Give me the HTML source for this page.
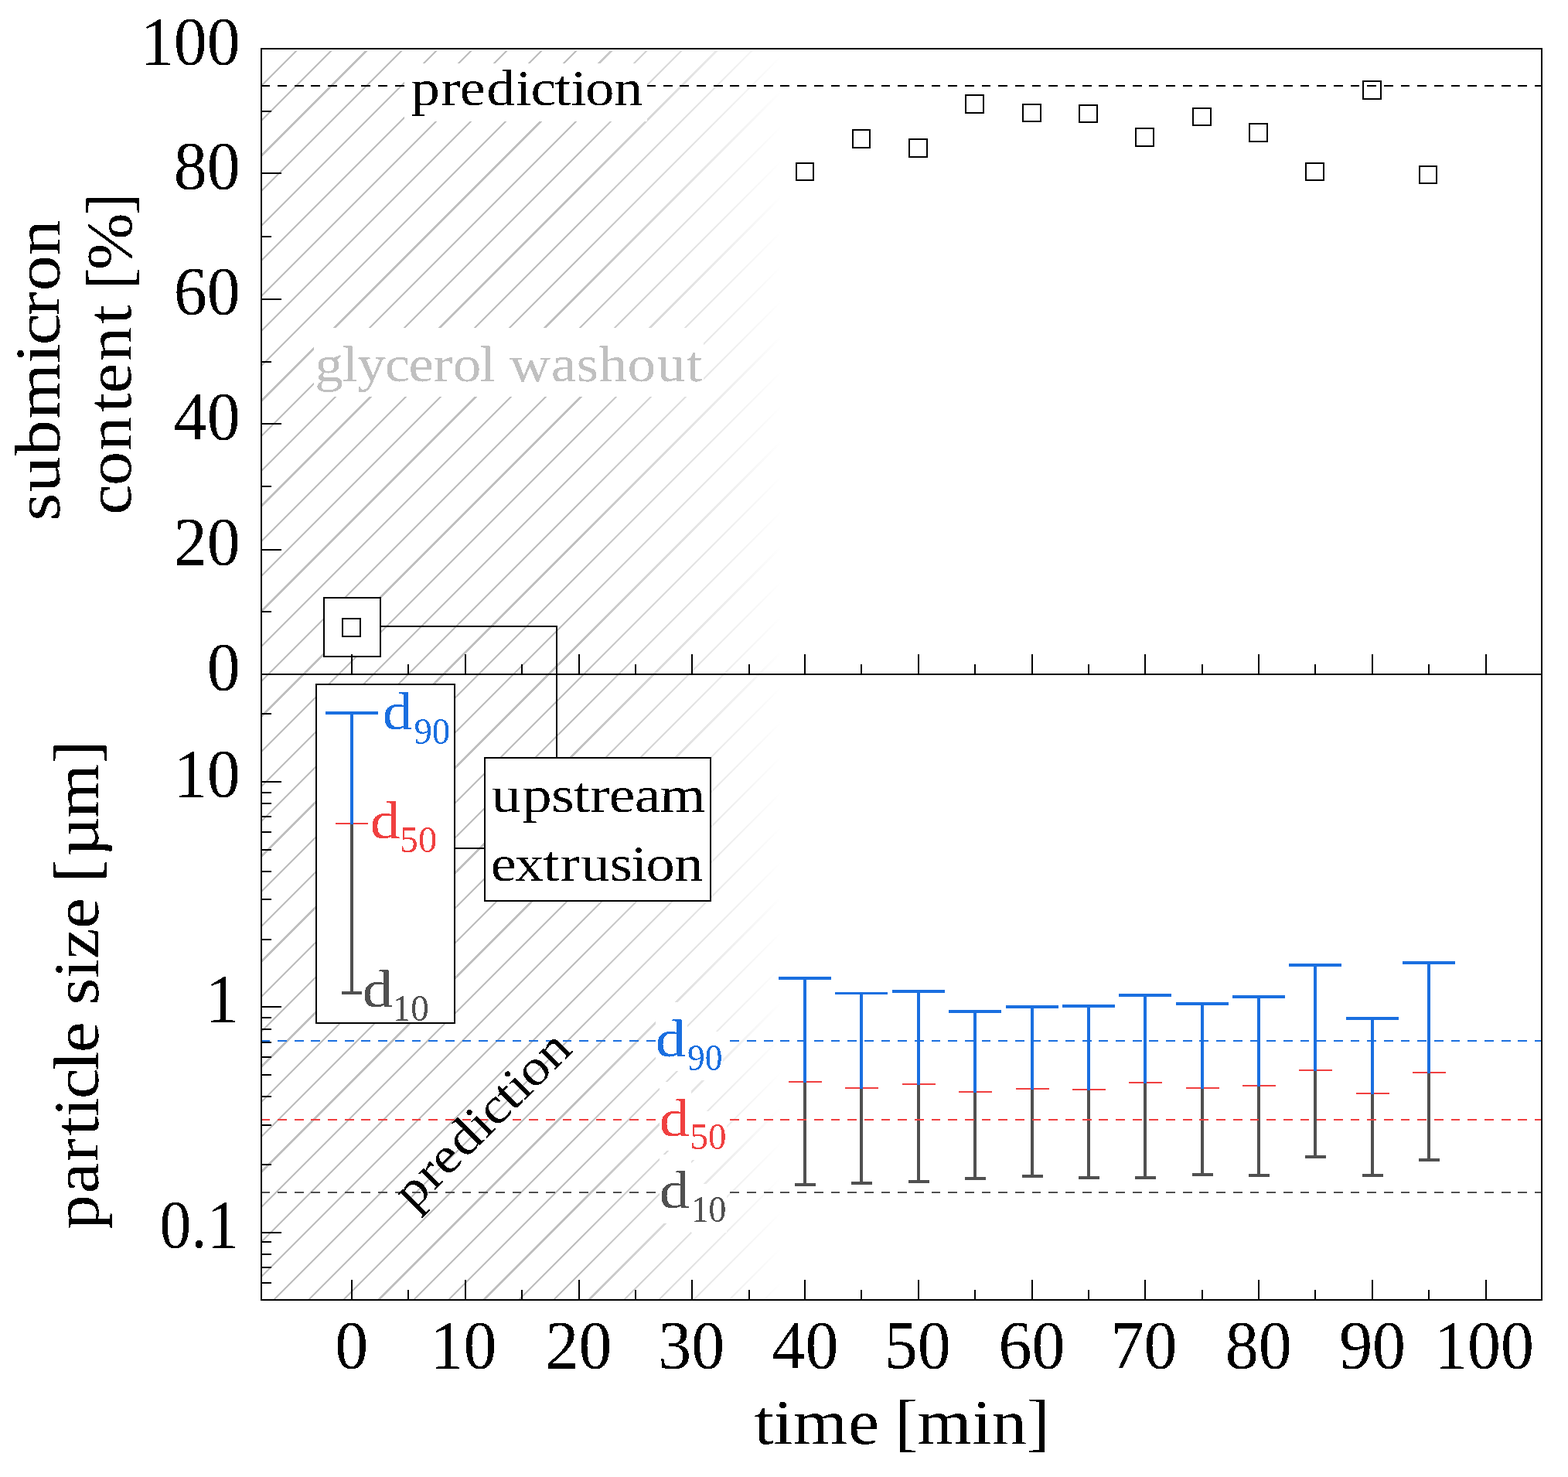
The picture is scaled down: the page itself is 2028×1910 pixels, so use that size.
<!DOCTYPE html>
<html lang="en"><head><meta charset="utf-8"><title>Particle size and submicron content over time</title>
<style>
html,body{margin:0;padding:0;background:#fff;}
svg{display:block;}
text{font-family:"Liberation Serif", serif;white-space:pre;filter:url(#bin);}
</style></head>
<body>
<svg xmlns="http://www.w3.org/2000/svg" width="2028" height="1910" viewBox="0 0 2028 1910" shape-rendering="crispEdges">
<rect width="2028" height="1910" fill="#fff"/>
<defs>
<clipPath id="plotclip"><rect x="338" y="63" width="1656" height="1618"/></clipPath>
<linearGradient id="fade" gradientUnits="userSpaceOnUse" x1="745" y1="0" x2="1010" y2="0"><stop offset="0" stop-color="#fff" stop-opacity="0"/><stop offset="1" stop-color="#fff" stop-opacity="1"/></linearGradient>
<clipPath id="hatchclip"><rect x="338" y="65.5" width="698" height="1615.5"/></clipPath>
<filter id="bin" x="-5%" y="-5%" width="110%" height="110%" color-interpolation-filters="sRGB"><feComponentTransfer><feFuncA type="discrete" tableValues="0 1"/></feComponentTransfer></filter>
</defs>
<g clip-path="url(#hatchclip)" stroke="#bfbfbf" stroke-width="2.3" fill="none">
<path d="M-1327.82 1686.00L300.18 58.00M-1282.51 1686.00L345.49 58.00M-1237.20 1686.00L390.80 58.00M-1191.89 1686.00L436.11 58.00M-1146.58 1686.00L481.42 58.00M-1101.27 1686.00L526.73 58.00M-1055.96 1686.00L572.04 58.00M-1010.65 1686.00L617.35 58.00M-965.34 1686.00L662.66 58.00M-920.03 1686.00L707.97 58.00M-874.72 1686.00L753.28 58.00M-829.41 1686.00L798.59 58.00M-784.10 1686.00L843.90 58.00M-738.79 1686.00L889.21 58.00M-693.48 1686.00L934.52 58.00M-648.17 1686.00L979.83 58.00M-602.86 1686.00L1025.14 58.00M-557.55 1686.00L1070.45 58.00M-512.24 1686.00L1115.76 58.00M-466.93 1686.00L1161.07 58.00M-421.62 1686.00L1206.38 58.00M-376.31 1686.00L1251.69 58.00M-331.00 1686.00L1297.00 58.00M-285.69 1686.00L1342.31 58.00M-240.38 1686.00L1387.62 58.00M-195.07 1686.00L1432.93 58.00M-149.76 1686.00L1478.24 58.00M-104.45 1686.00L1523.55 58.00M-59.14 1686.00L1568.86 58.00M-13.83 1686.00L1614.17 58.00M31.48 1686.00L1659.48 58.00M76.79 1686.00L1704.79 58.00M122.10 1686.00L1750.10 58.00M167.41 1686.00L1795.41 58.00M212.72 1686.00L1840.72 58.00M258.03 1686.00L1886.03 58.00M303.34 1686.00L1931.34 58.00M348.65 1686.00L1976.65 58.00M393.96 1686.00L2021.96 58.00M439.27 1686.00L2067.27 58.00M484.58 1686.00L2112.58 58.00M529.89 1686.00L2157.89 58.00M575.20 1686.00L2203.20 58.00M620.51 1686.00L2248.51 58.00M665.82 1686.00L2293.82 58.00M711.13 1686.00L2339.13 58.00M756.44 1686.00L2384.44 58.00M801.75 1686.00L2429.75 58.00M847.06 1686.00L2475.06 58.00M892.37 1686.00L2520.37 58.00M937.68 1686.00L2565.68 58.00M982.99 1686.00L2610.99 58.00M1028.30 1686.00L2656.30 58.00M1073.61 1686.00L2701.61 58.00"/>
</g>
<rect x="740.00" y="63.00" width="300.00" height="1618.00" fill="url(#fade)" stroke="none" stroke-width="2"/>
<line x1="1020.00" y1="1399.00" x2="1063.00" y2="1399.00" stroke="#f04040" stroke-width="2"/>
<line x1="1041.00" y1="1265.00" x2="1041.00" y2="1400.00" stroke="#1a6fe0" stroke-width="4"/>
<line x1="1041.00" y1="1400.00" x2="1041.00" y2="1532.00" stroke="#505050" stroke-width="4"/>
<line x1="1007.00" y1="1265.00" x2="1075.00" y2="1265.00" stroke="#1a6fe0" stroke-width="4"/>
<line x1="1028.00" y1="1532.00" x2="1055.00" y2="1532.00" stroke="#505050" stroke-width="4"/>
<line x1="1093.00" y1="1407.00" x2="1136.00" y2="1407.00" stroke="#f04040" stroke-width="2"/>
<line x1="1114.00" y1="1284.50" x2="1114.00" y2="1408.00" stroke="#1a6fe0" stroke-width="4"/>
<line x1="1114.00" y1="1408.00" x2="1114.00" y2="1530.00" stroke="#505050" stroke-width="4"/>
<line x1="1080.00" y1="1284.50" x2="1148.00" y2="1284.50" stroke="#1a6fe0" stroke-width="3"/>
<line x1="1101.00" y1="1530.00" x2="1128.00" y2="1530.00" stroke="#505050" stroke-width="4"/>
<line x1="1167.00" y1="1402.00" x2="1210.00" y2="1402.00" stroke="#f04040" stroke-width="2"/>
<line x1="1188.00" y1="1282.00" x2="1188.00" y2="1403.00" stroke="#1a6fe0" stroke-width="4"/>
<line x1="1188.00" y1="1403.00" x2="1188.00" y2="1528.00" stroke="#505050" stroke-width="4"/>
<line x1="1154.00" y1="1282.00" x2="1222.00" y2="1282.00" stroke="#1a6fe0" stroke-width="4"/>
<line x1="1175.00" y1="1528.00" x2="1202.00" y2="1528.00" stroke="#505050" stroke-width="4"/>
<line x1="1240.00" y1="1412.00" x2="1283.00" y2="1412.00" stroke="#f04040" stroke-width="2"/>
<line x1="1261.00" y1="1308.00" x2="1261.00" y2="1413.00" stroke="#1a6fe0" stroke-width="4"/>
<line x1="1261.00" y1="1413.00" x2="1261.00" y2="1524.00" stroke="#505050" stroke-width="4"/>
<line x1="1227.00" y1="1308.00" x2="1295.00" y2="1308.00" stroke="#1a6fe0" stroke-width="4"/>
<line x1="1248.00" y1="1524.00" x2="1275.00" y2="1524.00" stroke="#505050" stroke-width="4"/>
<line x1="1314.00" y1="1408.00" x2="1357.00" y2="1408.00" stroke="#f04040" stroke-width="2"/>
<line x1="1335.00" y1="1302.00" x2="1335.00" y2="1409.00" stroke="#1a6fe0" stroke-width="4"/>
<line x1="1335.00" y1="1409.00" x2="1335.00" y2="1521.00" stroke="#505050" stroke-width="4"/>
<line x1="1301.00" y1="1302.00" x2="1369.00" y2="1302.00" stroke="#1a6fe0" stroke-width="4"/>
<line x1="1322.00" y1="1521.00" x2="1349.00" y2="1521.00" stroke="#505050" stroke-width="4"/>
<line x1="1387.00" y1="1409.00" x2="1430.00" y2="1409.00" stroke="#f04040" stroke-width="2"/>
<line x1="1408.00" y1="1301.00" x2="1408.00" y2="1410.00" stroke="#1a6fe0" stroke-width="4"/>
<line x1="1408.00" y1="1410.00" x2="1408.00" y2="1523.00" stroke="#505050" stroke-width="4"/>
<line x1="1374.00" y1="1301.00" x2="1442.00" y2="1301.00" stroke="#1a6fe0" stroke-width="4"/>
<line x1="1395.00" y1="1523.00" x2="1422.00" y2="1523.00" stroke="#505050" stroke-width="4"/>
<line x1="1460.00" y1="1400.00" x2="1503.00" y2="1400.00" stroke="#f04040" stroke-width="2"/>
<line x1="1481.00" y1="1287.00" x2="1481.00" y2="1401.00" stroke="#1a6fe0" stroke-width="4"/>
<line x1="1481.00" y1="1401.00" x2="1481.00" y2="1523.00" stroke="#505050" stroke-width="4"/>
<line x1="1447.00" y1="1287.00" x2="1515.00" y2="1287.00" stroke="#1a6fe0" stroke-width="4"/>
<line x1="1468.00" y1="1523.00" x2="1495.00" y2="1523.00" stroke="#505050" stroke-width="4"/>
<line x1="1534.00" y1="1407.00" x2="1577.00" y2="1407.00" stroke="#f04040" stroke-width="2"/>
<line x1="1555.00" y1="1298.00" x2="1555.00" y2="1408.00" stroke="#1a6fe0" stroke-width="4"/>
<line x1="1555.00" y1="1408.00" x2="1555.00" y2="1519.00" stroke="#505050" stroke-width="4"/>
<line x1="1521.00" y1="1298.00" x2="1589.00" y2="1298.00" stroke="#1a6fe0" stroke-width="4"/>
<line x1="1542.00" y1="1519.00" x2="1569.00" y2="1519.00" stroke="#505050" stroke-width="4"/>
<line x1="1607.00" y1="1404.00" x2="1650.00" y2="1404.00" stroke="#f04040" stroke-width="2"/>
<line x1="1628.00" y1="1289.00" x2="1628.00" y2="1405.00" stroke="#1a6fe0" stroke-width="4"/>
<line x1="1628.00" y1="1405.00" x2="1628.00" y2="1520.00" stroke="#505050" stroke-width="4"/>
<line x1="1594.00" y1="1289.00" x2="1662.00" y2="1289.00" stroke="#1a6fe0" stroke-width="4"/>
<line x1="1615.00" y1="1520.00" x2="1642.00" y2="1520.00" stroke="#505050" stroke-width="4"/>
<line x1="1680.00" y1="1384.00" x2="1723.00" y2="1384.00" stroke="#f04040" stroke-width="2"/>
<line x1="1701.00" y1="1248.00" x2="1701.00" y2="1385.00" stroke="#1a6fe0" stroke-width="4"/>
<line x1="1701.00" y1="1385.00" x2="1701.00" y2="1496.00" stroke="#505050" stroke-width="4"/>
<line x1="1667.00" y1="1248.00" x2="1735.00" y2="1248.00" stroke="#1a6fe0" stroke-width="4"/>
<line x1="1688.00" y1="1496.00" x2="1715.00" y2="1496.00" stroke="#505050" stroke-width="4"/>
<line x1="1754.00" y1="1414.00" x2="1797.00" y2="1414.00" stroke="#f04040" stroke-width="2"/>
<line x1="1775.00" y1="1317.00" x2="1775.00" y2="1415.00" stroke="#1a6fe0" stroke-width="4"/>
<line x1="1775.00" y1="1415.00" x2="1775.00" y2="1520.00" stroke="#505050" stroke-width="4"/>
<line x1="1741.00" y1="1317.00" x2="1809.00" y2="1317.00" stroke="#1a6fe0" stroke-width="4"/>
<line x1="1762.00" y1="1520.00" x2="1789.00" y2="1520.00" stroke="#505050" stroke-width="4"/>
<line x1="1827.00" y1="1387.00" x2="1870.00" y2="1387.00" stroke="#f04040" stroke-width="2"/>
<line x1="1848.00" y1="1245.00" x2="1848.00" y2="1388.00" stroke="#1a6fe0" stroke-width="4"/>
<line x1="1848.00" y1="1388.00" x2="1848.00" y2="1500.00" stroke="#505050" stroke-width="4"/>
<line x1="1814.00" y1="1245.00" x2="1882.00" y2="1245.00" stroke="#1a6fe0" stroke-width="4"/>
<line x1="1835.00" y1="1500.00" x2="1862.00" y2="1500.00" stroke="#505050" stroke-width="4"/>
<line x1="338.00" y1="111.00" x2="1994.00" y2="111.00" stroke="#000" stroke-width="2" stroke-dasharray="11.8 9.88" stroke-dashoffset="0.6"/>
<line x1="338.00" y1="1346.00" x2="1994.00" y2="1346.00" stroke="#1a6fe0" stroke-width="2" stroke-dasharray="11.8 9.88" stroke-dashoffset="0.6"/>
<line x1="338.00" y1="1448.00" x2="1994.00" y2="1448.00" stroke="#f04040" stroke-width="2" stroke-dasharray="11.8 9.88" stroke-dashoffset="0.6"/>
<line x1="338.00" y1="1542.00" x2="1994.00" y2="1542.00" stroke="#505050" stroke-width="2" stroke-dasharray="11.8 9.88" stroke-dashoffset="0.6"/>
<rect x="523.30" y="81.70" width="313.60" height="75.30" fill="#fff" stroke="none" stroke-width="2"/>
<rect x="406.00" y="424.00" width="504.00" height="89.00" fill="#fff" stroke="none" stroke-width="2"/>
<rect x="847.80" y="1295.80" width="41.40" height="89.30" fill="#fff" stroke="none" stroke-width="2"/>
<rect x="889.20" y="1334.40" width="45.90" height="62.80" fill="#fff" stroke="none" stroke-width="2"/>
<rect x="853.00" y="1398.80" width="41.40" height="89.30" fill="#fff" stroke="none" stroke-width="2"/>
<rect x="894.40" y="1437.40" width="45.90" height="62.80" fill="#fff" stroke="none" stroke-width="2"/>
<rect x="853.00" y="1492.50" width="41.40" height="89.30" fill="#fff" stroke="none" stroke-width="2"/>
<rect x="894.40" y="1531.10" width="45.90" height="62.80" fill="#fff" stroke="none" stroke-width="2"/>
<rect x="1029.70" y="210.70" width="22.60" height="22.60" fill="none" stroke="#000" stroke-width="2"/>
<rect x="1102.75" y="168.10" width="22.60" height="22.60" fill="none" stroke="#000" stroke-width="2"/>
<rect x="1176.20" y="180.00" width="22.60" height="22.60" fill="none" stroke="#000" stroke-width="2"/>
<rect x="1249.20" y="123.10" width="22.60" height="22.60" fill="none" stroke="#000" stroke-width="2"/>
<rect x="1323.20" y="134.60" width="22.60" height="22.60" fill="none" stroke="#000" stroke-width="2"/>
<rect x="1396.20" y="135.50" width="22.60" height="22.60" fill="none" stroke="#000" stroke-width="2"/>
<rect x="1469.20" y="166.10" width="22.60" height="22.60" fill="none" stroke="#000" stroke-width="2"/>
<rect x="1543.20" y="139.60" width="22.60" height="22.60" fill="none" stroke="#000" stroke-width="2"/>
<rect x="1616.10" y="160.10" width="22.60" height="22.60" fill="none" stroke="#000" stroke-width="2"/>
<rect x="1689.20" y="210.60" width="22.60" height="22.60" fill="none" stroke="#000" stroke-width="2"/>
<rect x="1763.20" y="105.20" width="22.60" height="22.60" fill="none" stroke="#000" stroke-width="2"/>
<rect x="1835.70" y="214.50" width="22.60" height="22.60" fill="none" stroke="#000" stroke-width="2"/>
<line x1="492.00" y1="809.80" x2="720.00" y2="809.80" stroke="#000" stroke-width="2"/>
<line x1="720.00" y1="808.80" x2="720.00" y2="980.00" stroke="#000" stroke-width="2"/>
<rect x="419.10" y="773.10" width="72.80" height="75.70" fill="#fff" stroke="#000" stroke-width="2"/>
<rect x="443.20" y="800.20" width="22.60" height="22.60" fill="none" stroke="#000" stroke-width="2"/>
<line x1="588.00" y1="1097.30" x2="627.00" y2="1097.30" stroke="#000" stroke-width="2"/>
<rect x="409.20" y="885.40" width="179.00" height="437.20" fill="#fff" stroke="#000" stroke-width="2"/>
<rect x="627.20" y="980.20" width="292.00" height="184.60" fill="#fff" stroke="#000" stroke-width="2"/>
<line x1="434.00" y1="1065.00" x2="476.00" y2="1065.00" stroke="#f04040" stroke-width="2"/>
<line x1="455.00" y1="922.00" x2="455.00" y2="1066.00" stroke="#1a6fe0" stroke-width="4"/>
<line x1="455.00" y1="1066.00" x2="455.00" y2="1284.00" stroke="#505050" stroke-width="4"/>
<line x1="421.00" y1="922.00" x2="489.00" y2="922.00" stroke="#1a6fe0" stroke-width="4"/>
<line x1="442.00" y1="1284.00" x2="468.00" y2="1284.00" stroke="#505050" stroke-width="4"/>
<rect x="338.00" y="63.00" width="1656.00" height="1618.00" fill="none" stroke="#000" stroke-width="2"/>
<line x1="338.00" y1="872.00" x2="1994.00" y2="872.00" stroke="#000" stroke-width="2"/>
<line x1="455.00" y1="872.00" x2="455.00" y2="846.00" stroke="#000" stroke-width="2"/>
<line x1="455.00" y1="1681.00" x2="455.00" y2="1655.00" stroke="#000" stroke-width="2"/>
<line x1="528.00" y1="872.00" x2="528.00" y2="859.00" stroke="#000" stroke-width="2"/>
<line x1="528.00" y1="1681.00" x2="528.00" y2="1668.00" stroke="#000" stroke-width="2"/>
<line x1="602.00" y1="872.00" x2="602.00" y2="846.00" stroke="#000" stroke-width="2"/>
<line x1="602.00" y1="1681.00" x2="602.00" y2="1655.00" stroke="#000" stroke-width="2"/>
<line x1="675.00" y1="872.00" x2="675.00" y2="859.00" stroke="#000" stroke-width="2"/>
<line x1="675.00" y1="1681.00" x2="675.00" y2="1668.00" stroke="#000" stroke-width="2"/>
<line x1="749.00" y1="872.00" x2="749.00" y2="846.00" stroke="#000" stroke-width="2"/>
<line x1="749.00" y1="1681.00" x2="749.00" y2="1655.00" stroke="#000" stroke-width="2"/>
<line x1="822.00" y1="872.00" x2="822.00" y2="859.00" stroke="#000" stroke-width="2"/>
<line x1="822.00" y1="1681.00" x2="822.00" y2="1668.00" stroke="#000" stroke-width="2"/>
<line x1="895.00" y1="872.00" x2="895.00" y2="846.00" stroke="#000" stroke-width="2"/>
<line x1="895.00" y1="1681.00" x2="895.00" y2="1655.00" stroke="#000" stroke-width="2"/>
<line x1="969.00" y1="872.00" x2="969.00" y2="859.00" stroke="#000" stroke-width="2"/>
<line x1="969.00" y1="1681.00" x2="969.00" y2="1668.00" stroke="#000" stroke-width="2"/>
<line x1="1041.00" y1="872.00" x2="1041.00" y2="846.00" stroke="#000" stroke-width="2"/>
<line x1="1041.00" y1="1681.00" x2="1041.00" y2="1655.00" stroke="#000" stroke-width="2"/>
<line x1="1114.00" y1="872.00" x2="1114.00" y2="859.00" stroke="#000" stroke-width="2"/>
<line x1="1114.00" y1="1681.00" x2="1114.00" y2="1668.00" stroke="#000" stroke-width="2"/>
<line x1="1188.00" y1="872.00" x2="1188.00" y2="846.00" stroke="#000" stroke-width="2"/>
<line x1="1188.00" y1="1681.00" x2="1188.00" y2="1655.00" stroke="#000" stroke-width="2"/>
<line x1="1261.00" y1="872.00" x2="1261.00" y2="859.00" stroke="#000" stroke-width="2"/>
<line x1="1261.00" y1="1681.00" x2="1261.00" y2="1668.00" stroke="#000" stroke-width="2"/>
<line x1="1335.00" y1="872.00" x2="1335.00" y2="846.00" stroke="#000" stroke-width="2"/>
<line x1="1335.00" y1="1681.00" x2="1335.00" y2="1655.00" stroke="#000" stroke-width="2"/>
<line x1="1408.00" y1="872.00" x2="1408.00" y2="859.00" stroke="#000" stroke-width="2"/>
<line x1="1408.00" y1="1681.00" x2="1408.00" y2="1668.00" stroke="#000" stroke-width="2"/>
<line x1="1481.00" y1="872.00" x2="1481.00" y2="846.00" stroke="#000" stroke-width="2"/>
<line x1="1481.00" y1="1681.00" x2="1481.00" y2="1655.00" stroke="#000" stroke-width="2"/>
<line x1="1555.00" y1="872.00" x2="1555.00" y2="859.00" stroke="#000" stroke-width="2"/>
<line x1="1555.00" y1="1681.00" x2="1555.00" y2="1668.00" stroke="#000" stroke-width="2"/>
<line x1="1628.00" y1="872.00" x2="1628.00" y2="846.00" stroke="#000" stroke-width="2"/>
<line x1="1628.00" y1="1681.00" x2="1628.00" y2="1655.00" stroke="#000" stroke-width="2"/>
<line x1="1701.00" y1="872.00" x2="1701.00" y2="859.00" stroke="#000" stroke-width="2"/>
<line x1="1701.00" y1="1681.00" x2="1701.00" y2="1668.00" stroke="#000" stroke-width="2"/>
<line x1="1775.00" y1="872.00" x2="1775.00" y2="846.00" stroke="#000" stroke-width="2"/>
<line x1="1775.00" y1="1681.00" x2="1775.00" y2="1655.00" stroke="#000" stroke-width="2"/>
<line x1="1848.00" y1="872.00" x2="1848.00" y2="859.00" stroke="#000" stroke-width="2"/>
<line x1="1848.00" y1="1681.00" x2="1848.00" y2="1668.00" stroke="#000" stroke-width="2"/>
<line x1="1922.00" y1="872.00" x2="1922.00" y2="846.00" stroke="#000" stroke-width="2"/>
<line x1="1922.00" y1="1681.00" x2="1922.00" y2="1655.00" stroke="#000" stroke-width="2"/>
<line x1="338.00" y1="791.00" x2="351.00" y2="791.00" stroke="#000" stroke-width="2"/>
<line x1="338.00" y1="711.00" x2="364.00" y2="711.00" stroke="#000" stroke-width="2"/>
<line x1="338.00" y1="629.00" x2="351.00" y2="629.00" stroke="#000" stroke-width="2"/>
<line x1="338.00" y1="548.00" x2="364.00" y2="548.00" stroke="#000" stroke-width="2"/>
<line x1="338.00" y1="468.00" x2="351.00" y2="468.00" stroke="#000" stroke-width="2"/>
<line x1="338.00" y1="387.00" x2="364.00" y2="387.00" stroke="#000" stroke-width="2"/>
<line x1="338.00" y1="306.00" x2="351.00" y2="306.00" stroke="#000" stroke-width="2"/>
<line x1="338.00" y1="224.00" x2="364.00" y2="224.00" stroke="#000" stroke-width="2"/>
<line x1="338.00" y1="144.00" x2="351.00" y2="144.00" stroke="#000" stroke-width="2"/>
<line x1="338.00" y1="1659.00" x2="351.00" y2="1659.00" stroke="#000" stroke-width="2"/>
<line x1="338.00" y1="1639.00" x2="351.00" y2="1639.00" stroke="#000" stroke-width="2"/>
<line x1="338.00" y1="1622.00" x2="351.00" y2="1622.00" stroke="#000" stroke-width="2"/>
<line x1="338.00" y1="1606.00" x2="351.00" y2="1606.00" stroke="#000" stroke-width="2"/>
<line x1="338.00" y1="1594.00" x2="364.00" y2="1594.00" stroke="#000" stroke-width="2"/>
<line x1="338.00" y1="1506.00" x2="351.00" y2="1506.00" stroke="#000" stroke-width="2"/>
<line x1="338.00" y1="1455.00" x2="351.00" y2="1455.00" stroke="#000" stroke-width="2"/>
<line x1="338.00" y1="1418.00" x2="351.00" y2="1418.00" stroke="#000" stroke-width="2"/>
<line x1="338.00" y1="1390.00" x2="351.00" y2="1390.00" stroke="#000" stroke-width="2"/>
<line x1="338.00" y1="1367.00" x2="351.00" y2="1367.00" stroke="#000" stroke-width="2"/>
<line x1="338.00" y1="1348.00" x2="351.00" y2="1348.00" stroke="#000" stroke-width="2"/>
<line x1="338.00" y1="1331.00" x2="351.00" y2="1331.00" stroke="#000" stroke-width="2"/>
<line x1="338.00" y1="1316.00" x2="351.00" y2="1316.00" stroke="#000" stroke-width="2"/>
<line x1="338.00" y1="1302.00" x2="364.00" y2="1302.00" stroke="#000" stroke-width="2"/>
<line x1="338.00" y1="1215.00" x2="351.00" y2="1215.00" stroke="#000" stroke-width="2"/>
<line x1="338.00" y1="1163.00" x2="351.00" y2="1163.00" stroke="#000" stroke-width="2"/>
<line x1="338.00" y1="1127.00" x2="351.00" y2="1127.00" stroke="#000" stroke-width="2"/>
<line x1="338.00" y1="1099.00" x2="351.00" y2="1099.00" stroke="#000" stroke-width="2"/>
<line x1="338.00" y1="1076.00" x2="351.00" y2="1076.00" stroke="#000" stroke-width="2"/>
<line x1="338.00" y1="1056.00" x2="351.00" y2="1056.00" stroke="#000" stroke-width="2"/>
<line x1="338.00" y1="1039.00" x2="351.00" y2="1039.00" stroke="#000" stroke-width="2"/>
<line x1="338.00" y1="1025.00" x2="351.00" y2="1025.00" stroke="#000" stroke-width="2"/>
<line x1="338.00" y1="1011.00" x2="364.00" y2="1011.00" stroke="#000" stroke-width="2"/>
<line x1="338.00" y1="923.00" x2="351.00" y2="923.00" stroke="#000" stroke-width="2"/>
<text transform="translate(433.20 1769.30) scale(0.8600 0.8785)" font-size="100" fill="#000">0</text>
<text transform="translate(556.55 1769.30) scale(0.8600 0.8785)" font-size="100" fill="#000">10</text>
<text transform="translate(705.49 1769.30) scale(0.8600 0.8785)" font-size="100" fill="#000">20</text>
<text transform="translate(851.27 1769.30) scale(0.8600 0.8785)" font-size="100" fill="#000">30</text>
<text transform="translate(998.56 1769.30) scale(0.8600 0.8785)" font-size="100" fill="#000">40</text>
<text transform="translate(1143.84 1769.30) scale(0.8600 0.8785)" font-size="100" fill="#000">50</text>
<text transform="translate(1291.49 1769.30) scale(0.8600 0.8785)" font-size="100" fill="#000">60</text>
<text transform="translate(1436.63 1769.30) scale(0.8600 0.8785)" font-size="100" fill="#000">70</text>
<text transform="translate(1584.70 1769.30) scale(0.8600 0.8785)" font-size="100" fill="#000">80</text>
<text transform="translate(1732.13 1769.30) scale(0.8600 0.8785)" font-size="100" fill="#000">90</text>
<text transform="translate(1855.05 1769.30) scale(0.8600 0.8785)" font-size="100" fill="#000">100</text>
<text transform="translate(267.74 891.50) scale(0.8600 0.8785)" font-size="100" fill="#000">0</text>
<text transform="translate(224.74 729.70) scale(0.8600 0.8785)" font-size="100" fill="#000">20</text>
<text transform="translate(224.74 567.90) scale(0.8600 0.8785)" font-size="100" fill="#000">40</text>
<text transform="translate(224.74 406.10) scale(0.8600 0.8785)" font-size="100" fill="#000">60</text>
<text transform="translate(224.74 244.30) scale(0.8600 0.8785)" font-size="100" fill="#000">80</text>
<text transform="translate(181.74 82.50) scale(0.8600 0.8785)" font-size="100" fill="#000">100</text>
<text transform="translate(224.74 1030.39) scale(0.8600 0.8785)" font-size="100" fill="#000">10</text>
<text transform="translate(265.86 1321.49) scale(0.8600 0.8785)" font-size="100" fill="#000">1</text>
<text transform="translate(206.53 1612.59) scale(0.8165 0.8785)" font-size="100" fill="#000">0.1</text>
<text transform="translate(975.00 1866.80) scale(0.8999 0.8300)" font-size="100" fill="#000" x="0.61 28.39 56.67 135.57 178.85 202.23 234.92 313.81 342.32 392.21">time [min]</text>
<text transform="translate(76.60 673.61) rotate(-90) scale(0.9268 0.8300)" font-size="100" fill="#000" x="0.11 40.05 90.96 142.15 219.93 245.12 286.17 320.82 370.28">submicron</text>
<text transform="translate(168.90 665.34) rotate(-90) scale(0.8838 0.8300)" font-size="100" fill="#000" x="-0.45 42.01 93.48 149.64 177.03 223.90 278.71 304.52 328.56 357.72 437.69">content [%]</text>
<text transform="translate(126.60 1594.25) rotate(-90) scale(0.8975 0.8300)" font-size="100" fill="#000" x="4.62 56.52 102.57 139.82 167.50 192.89 233.59 259.65 303.59 328.09 366.67 394.45 438.17 481.39 504.83 542.14 597.80 675.75">particle size [µm]</text>
<text transform="translate(531.39 136.10) scale(0.7431 0.6500)" font-size="100" fill="#000" x="0.61 52.76 85.32 131.65 182.46 208.83 250.46 278.44 303.93 353.53">prediction</text>
<text transform="translate(406.31 492.60) scale(0.7322 0.6500)" font-size="100" fill="#c0c0c0" x="1.23 49.45 76.35 124.98 166.77 210.95 245.00 292.48 320.12 345.12 418.43 463.36 503.37 553.37 605.49 657.60">glycerol washout</text>
<text transform="translate(634.86 1049.90) scale(0.7571 0.6500)" font-size="100" fill="#000" x="1.25 53.96 103.43 141.42 169.47 201.98 245.57 288.77">upstream</text>
<text transform="translate(634.32 1139.00) scale(0.7443 0.6500)" font-size="100" fill="#000" x="0.60 42.43 91.70 121.49 156.95 207.55 244.38 270.22 319.54">extrusion</text>
<text transform="translate(494.70 943.10) scale(0.7714 0.6700)" font-size="100" fill="#1a6fe0">d</text>
<text transform="translate(535.40 961.70) scale(0.4677 0.4890)" font-size="100" fill="#1a6fe0">90</text>
<text transform="translate(478.78 1084.10) scale(0.7758 0.6700)" font-size="100" fill="#f04040">d</text>
<text transform="translate(516.80 1101.90) scale(0.4833 0.4890)" font-size="100" fill="#f04040">50</text>
<text transform="translate(468.75 1301.50) scale(0.7846 0.6700)" font-size="100" fill="#505050">d</text>
<text transform="translate(507.76 1319.70) scale(0.4713 0.4890)" font-size="100" fill="#505050">10</text>
<text transform="translate(847.85 1365.50) scale(0.7846 0.6700)" font-size="100" fill="#1a6fe0">d</text>
<text transform="translate(889.04 1383.60) scale(0.4538 0.4890)" font-size="100" fill="#1a6fe0">90</text>
<text transform="translate(852.86 1468.50) scale(0.7824 0.6700)" font-size="100" fill="#f04040">d</text>
<text transform="translate(892.59 1485.70) scale(0.4689 0.4890)" font-size="100" fill="#f04040">50</text>
<text transform="translate(852.86 1562.20) scale(0.7824 0.6700)" font-size="100" fill="#505050">d</text>
<text transform="translate(893.68 1580.10) scale(0.4575 0.4890)" font-size="100" fill="#505050">10</text>
<text transform="translate(534.90 1566.40) rotate(-45) scale(0.7292 0.6500) translate(-1.50 0)" font-size="100" fill="#000" x="0.60 52.76 85.31 131.64 182.45 208.83 250.46 278.44 303.94 353.53">prediction</text>
</svg>
</body></html>
